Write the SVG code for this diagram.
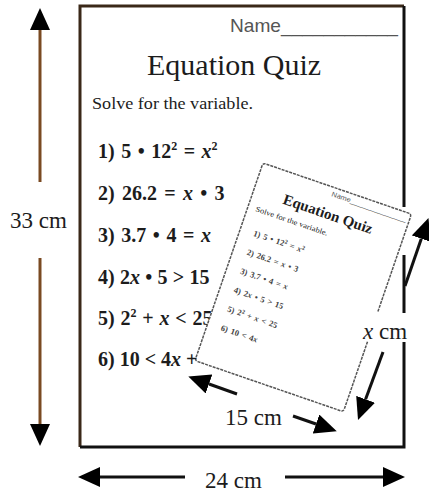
<svg xmlns="http://www.w3.org/2000/svg" width="429" height="493" viewBox="0 0 429 493">
<style>
.serif{font-family:"Liberation Serif","Times New Roman",serif;fill:#1c1c1c}
.sans{font-family:"Liberation Sans",Arial,sans-serif;fill:#555}
.eq{font-family:"Liberation Serif","Times New Roman",serif;font-weight:bold;font-size:20px;fill:#1c1c1c}
.seq{font-family:"Liberation Serif","Times New Roman",serif;font-weight:bold;font-size:8.5px;fill:#444;word-spacing:1px}
.lbl{font-family:"Liberation Serif","Times New Roman",serif;font-size:23px;fill:#1c1c1c}
.arr{fill:none;stroke:#111;stroke-width:3}
.brown{fill:none;stroke:#7a4a22;stroke-width:3}
.spage{fill:none;stroke:#555;stroke-width:1.5;stroke-dasharray:3 1}
</style>
<defs>
<marker id="ah" viewBox="0 0 22 20" refX="0" refY="10" markerWidth="22" markerHeight="20" markerUnits="userSpaceOnUse" orient="auto">
<path d="M0,0 L22,10 L0,20 z" fill="#000"/>
</marker>
</defs>
<rect width="429" height="493" fill="#fff"/>

<g id="big-page">
<rect x="80" y="6" width="324" height="441" fill="#fff"/>
<path d="M80,447 V6 H404" fill="none" stroke="#3a2818" stroke-width="3"/>
<path d="M404,6 V207 M404,255 V313 M404,342 V447 H80" fill="none" stroke="#111" stroke-width="3"/>
<text class="sans" x="230" y="32" font-size="19" textLength="168" lengthAdjust="spacingAndGlyphs">Name___________</text>
<text class="serif" x="147" y="75" font-size="30">Equation Quiz</text>
<text class="serif" x="92" y="109" font-size="16" textLength="161" lengthAdjust="spacingAndGlyphs">Solve for the variable.</text>
<text class="eq" x="98" y="158" word-spacing="1.5">1) 5 • 12<tspan dy="-8" font-size="12">2</tspan><tspan dy="8"> = </tspan><tspan font-style="italic">x</tspan><tspan dy="-8" font-size="12">2</tspan></text>
<text class="eq" x="98" y="200" word-spacing="2.3">2) 26.2 = <tspan font-style="italic">x</tspan> • 3</text>
<text class="eq" x="98" y="242" word-spacing="1.6">3) 3.7 • 4 = <tspan font-style="italic">x</tspan></text>
<text class="eq" x="98" y="284" word-spacing="0.3">4) 2<tspan font-style="italic">x</tspan> • 5 &gt; 15</text>
<text class="eq" x="98" y="325" word-spacing="0.8">5) 2<tspan dy="-8" font-size="12">2</tspan><tspan dy="8"> + </tspan><tspan font-style="italic">x</tspan> &lt; 25</text>
</g>

<g id="small-page" transform="translate(263,163) rotate(19)">
<rect x="0" y="0" width="157" height="209" rx="3" fill="#fff"/>
<path class="spage" d="M157,103 V3 Q157,0 154,0 H3 Q0,0 0,3 V206 Q0,209 3,209 H154 Q157,209 157,206 V134"/>
<text class="sans" x="75" y="9" font-size="7" fill="#666" textLength="79" lengthAdjust="spacingAndGlyphs">Name______________</text>
<text class="serif" x="78" y="32" font-size="15" font-weight="bold" text-anchor="middle" fill="#333">Equation Quiz</text>
<text class="serif" x="8" y="48" font-size="7.5" fill="#555" textLength="76" lengthAdjust="spacingAndGlyphs">Solve for the variable.</text>
<text class="seq" x="14" y="72">1) 5 • 12<tspan dy="-3" font-size="6">2</tspan><tspan dy="3"> = </tspan><tspan font-style="italic">x</tspan><tspan dy="-3" font-size="6">2</tspan></text>
<text class="seq" x="14" y="92">2) 26.2 = <tspan font-style="italic">x</tspan> • 3</text>
<text class="seq" x="14" y="112">3) 3.7 • 4 = <tspan font-style="italic">x</tspan></text>
<text class="seq" x="14" y="132">4) 2<tspan font-style="italic">x</tspan> • 5 &gt; 15</text>
<text class="seq" x="14" y="152">5) 2<tspan dy="-3" font-size="6">2</tspan><tspan dy="3"> + </tspan><tspan font-style="italic">x</tspan> &lt; 25</text>
<text class="seq" x="14" y="172">6) 10 &lt; 4<tspan font-style="italic">x</tspan></text>
</g>

<g id="line6">
<text class="eq" x="98" y="366" word-spacing="0">6) 10 &lt; 4<tspan font-style="italic">x</tspan> +</text>
</g>

<g id="connectors">
<path class="brown" d="M40,182 V30" marker-end="url(#ah)"/>
<path class="brown" d="M40,258 V424" marker-end="url(#ah)"/>
<path class="arr" d="M185,477 H100" marker-end="url(#ah)"/>
<path class="arr" d="M285,477 H383" marker-end="url(#ah)"/>
<path class="arr" stroke-width="2.5" d="M237,394 L209,384" marker-end="url(#ah)"/>
<path class="arr" stroke-width="2.5" d="M293,416 L316,424" marker-end="url(#ah)"/>
<path class="arr" stroke-width="2.5" d="M405,286 L421.3,238.7" marker-end="url(#ah)"/>
<path class="arr" stroke-width="2.5" d="M383,352 L365.6,399.3" marker-end="url(#ah)"/>
</g>

<g id="labels">
<text class="lbl" x="10" y="228">33 cm</text>
<text class="lbl" x="205" y="488">24 cm</text>
<text class="lbl" x="225" y="425">15 cm</text>
<text class="lbl" x="363" y="339"><tspan font-style="italic">x</tspan> cm</text>
</g>
</svg>
